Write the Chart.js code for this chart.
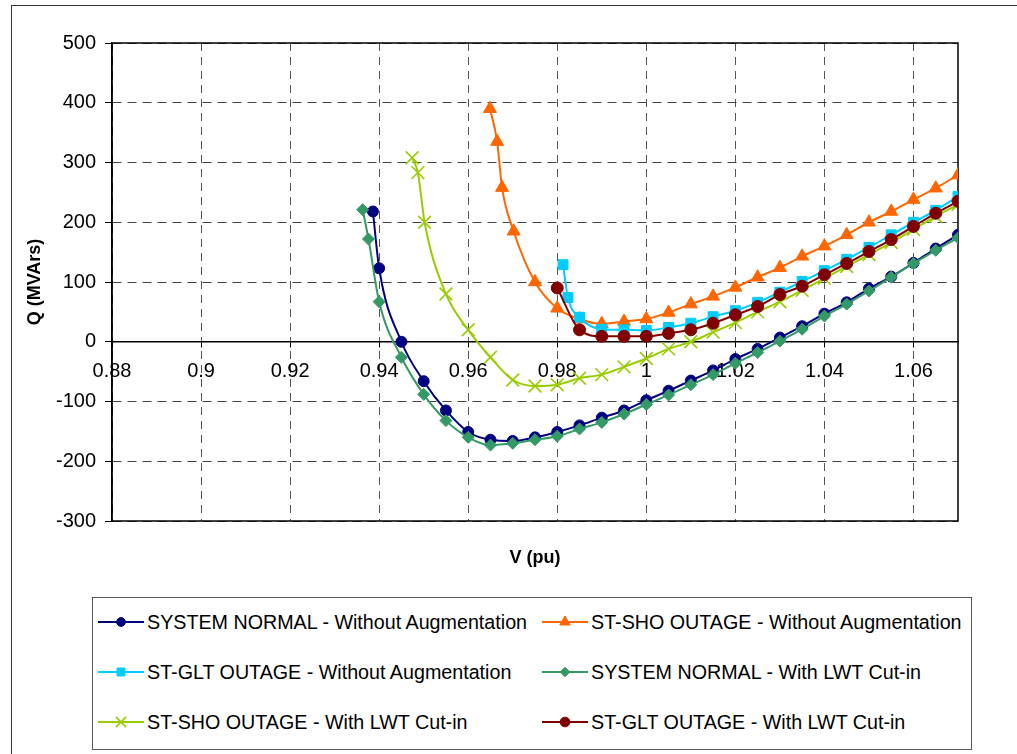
<!DOCTYPE html>
<html>
<head>
<meta charset="utf-8">
<script src="https://cdn.jsdelivr.net/npm/chart.js@4/dist/chart.umd.min.js"></script>
<style>
  body { margin: 0; background: #fff; overflow: hidden; }
  #page { position: relative; width: 1017px; height: 754px; overflow: hidden; }
  #chart { position: absolute; left: 0; top: 0; }
  #frame { position: absolute; left: 11px; top: 5px; width: 1030px; height: 780px; border: 1.5px solid #333; box-sizing: border-box; pointer-events: none; }
  #legend { position: absolute; left: 92px; top: 597px; width: 880px; height: 153px; border: 1px solid #555; box-sizing: border-box; background: #fff;
            font-family: 'Liberation Sans', Arial, sans-serif; font-size: 19.7px; color: #000; }
  .item { position: absolute; height: 24px; display: flex; align-items: center; white-space: nowrap; }
  .item canvas { margin-right: 3px; }
</style>
</head>
<body>
<div id="page">
  <canvas id="chart" width="1017" height="590"></canvas>
  <div id="legend"></div>
  <div id="frame"></div>
</div>
<script>
// V (pu) and Q (MVArs), one pair of arrays per series
const vNormal = [0.9386, 0.94, 0.945, 0.95, 0.955, 0.96, 0.965, 0.97, 0.975, 0.98, 0.985, 0.99, 0.995, 1.0,
                 1.005, 1.01, 1.015, 1.02, 1.025, 1.03, 1.035, 1.04, 1.045, 1.05, 1.055, 1.06, 1.065, 1.07];
const qNormal = [218, 123, 0, -66, -115, -151, -164, -166, -160, -151, -140, -127, -115, -98,
                 -82, -65, -48, -29, -12, 7, 26, 47, 66, 89, 109, 132, 156, 179];

const vShoOut = [0.9649, 0.9665, 0.9676, 0.9702, 0.975, 0.98, 0.985, 0.99, 0.995, 1.0, 1.005, 1.01, 1.015,
                 1.02, 1.025, 1.03, 1.035, 1.04, 1.045, 1.05, 1.055, 1.06, 1.065, 1.07];
const qShoOut = [390, 335, 258, 185, 100, 56, 38, 30, 34, 38, 49, 63, 76,
                 91, 108, 124, 143, 160, 179, 200, 218, 238, 257, 279];

const vGltOut = [0.9813, 0.9824, 0.985, 0.99, 0.995, 1.0, 1.005, 1.01, 1.015, 1.02, 1.025, 1.03,
                 1.035, 1.04, 1.045, 1.05, 1.055, 1.06, 1.065, 1.07];
const qGltOut = [129, 74, 41, 21, 20, 19, 24, 31, 42, 52, 66, 83,
                 101, 119, 138, 158, 179, 200, 220, 243];

const vNormalLwt = [0.9363, 0.9376, 0.94, 0.945, 0.95, 0.955, 0.96, 0.965, 0.97, 0.975, 0.98, 0.985, 0.99, 0.995, 1.0,
                    1.005, 1.01, 1.015, 1.02, 1.025, 1.03, 1.035, 1.04, 1.045, 1.05, 1.055, 1.06, 1.065, 1.07];
const qNormalLwt = [221, 172, 67, -26, -88, -132, -160, -173, -170, -164, -158, -146, -135, -121, -105,
                    -89, -72, -55, -36, -18, 1, 21, 43, 63, 85, 108, 131, 153, 174];

const vShoLwt = [0.9474, 0.9487, 0.9502, 0.955, 0.96, 0.965, 0.97, 0.975, 0.98, 0.985, 0.99, 0.995, 1.0,
                 1.005, 1.01, 1.015, 1.02, 1.025, 1.03, 1.035, 1.04, 1.045, 1.05, 1.055, 1.06, 1.065, 1.07];
const qShoLwt = [308, 283, 200, 80, 20, -26, -64, -74, -72, -61, -55, -42, -28,
                 -12, 0, 16, 32, 50, 67, 86, 106, 126, 146, 166, 188, 210, 230];

const vGltLwt = [0.98, 0.985, 0.99, 0.995, 1.0, 1.005, 1.01, 1.015, 1.02, 1.025, 1.03,
                 1.035, 1.04, 1.045, 1.05, 1.055, 1.06, 1.065, 1.07];
const qGltLwt = [90, 20, 9, 9, 9, 14, 20, 31, 45, 59, 79,
                 93, 112, 131, 151, 171, 193, 215, 235];

const seriesNames = [
  'SYSTEM NORMAL - Without Augmentation',
  'ST-SHO OUTAGE - Without Augmentation',
  'ST-GLT OUTAGE - Without Augmentation',
  'SYSTEM NORMAL - With LWT Cut-in',
  'ST-SHO OUTAGE - With LWT Cut-in',
  'ST-GLT OUTAGE - With LWT Cut-in'
];

const xTitle = 'V (pu)';
const yTitle = 'Q (MVArs)';

function pts(vs, qs) {
  return vs.map((v, i) => ({ x: v, y: qs[i] }));
}

const series = [
  { data: pts(vNormal, qNormal),       color: '#000080', style: 'circle',   r: 5.5 },
  { data: pts(vShoOut, qShoOut),       color: '#FF6600', style: 'triangle', r: 7.5 },
  { data: pts(vGltOut, qGltOut),       color: '#00CCFF', style: 'rect',     r: 7 },
  { data: pts(vNormalLwt, qNormalLwt), color: '#339966', style: 'rectRot',  r: 6 },
  { data: pts(vShoLwt, qShoLwt),       color: '#99CC00', style: 'crossRot', r: 9 },
  { data: pts(vGltLwt, qGltLwt),       color: '#800000', style: 'circle',   r: 6 }
];

const FONT = "'Liberation Sans', Arial, sans-serif";
Chart.defaults.font.family = FONT;
Chart.defaults.color = '#000';

// plot area border (Excel style box round the plot)
const framePlugin = {
  id: 'frame',
  beforeDatasetsDraw(chart) {
    const a = chart.chartArea, ctx = chart.ctx;
    ctx.save();
    ctx.strokeStyle = '#000';
    ctx.lineWidth = 1.5;
    ctx.strokeRect(a.left, a.top, a.right - a.left, a.bottom - a.top);
    ctx.restore();
  }
};

// axis titles, drawn by hand because the x axis sits on the zero line
const titlesPlugin = {
  id: 'titles',
  afterDraw(chart) {
    const a = chart.chartArea, ctx = chart.ctx;
    ctx.save();
    ctx.fillStyle = '#000';
    ctx.font = 'bold 18px ' + FONT;
    ctx.textAlign = 'center';
    ctx.textBaseline = 'middle';
    ctx.fillText(xTitle, (a.left + a.right) / 2, 558);
    ctx.translate(35, (a.top + a.bottom) / 2);
    ctx.rotate(-Math.PI / 2);
    ctx.fillText(yTitle, 0, 0);
    ctx.restore();
  }
};

const chart = new Chart(document.getElementById('chart'), {
  type: 'line',
  data: {
    datasets: series.map((s, i) => ({
      label: seriesNames[i],
      data: s.data,
      borderColor: s.color,
      backgroundColor: s.color,
      pointStyle: s.style,
      pointRadius: s.r,
      pointHoverRadius: s.r,
      pointBorderWidth: s.style === 'crossRot' ? 1.6 : 1,
      borderWidth: 2,
      cubicInterpolationMode: 'monotone',
      order: series.length - i
    }))
  },
  options: {
    responsive: false,
    animation: false,
    events: [],
    layout: { padding: { left: 50, top: 43, right: 59, bottom: 69 } },
    plugins: { legend: { display: false }, tooltip: { enabled: false } },
    scales: {
      x: {
        type: 'linear',
        min: 0.88,
        max: 1.07,
        position: { y: 0 },
        ticks: {
          stepSize: 0.02,
          includeBounds: false,
          padding: 13,
          font: { size: 20 },
          color: '#000',
          callback: v => String(Math.round(v * 100) / 100)
        },
        grid: { color: '#555', tickColor: '#000', tickLength: 5, borderDash: [8, 6] },
        border: { color: '#000', width: 1.5, dash: [8, 6] }
      },
      y: {
        type: 'linear',
        min: -300,
        max: 500,
        ticks: {
          stepSize: 100,
          padding: 9,
          font: { size: 20 },
          color: '#000',
          callback: v => String(v)
        },
        grid: { color: '#444', tickColor: '#000', tickLength: 7, borderDash: [9, 6] },
        border: { color: '#000', width: 1.5, dash: [9, 6] },
        afterFit: s => { s.width = 62; }
      }
    }
  },
  plugins: [framePlugin, titlesPlugin]
});

// legend: two columns, three rows, like the Excel one
const legend = document.getElementById('legend');
const colLeft = [5, 449];
const rowTop = [12, 62, 112];
chart.data.datasets.forEach((ds, i) => {
  const item = document.createElement('div');
  item.className = 'item';
  item.style.left = colLeft[i % 2] + 'px';
  item.style.top = rowTop[Math.floor(i / 2)] + 'px';

  const c = document.createElement('canvas');
  c.width = 46;
  c.height = 20;
  const ctx = c.getContext('2d');
  ctx.strokeStyle = ds.borderColor;
  ctx.fillStyle = ds.backgroundColor;
  ctx.lineWidth = 2;
  ctx.beginPath();
  ctx.moveTo(0, 10);
  ctx.lineTo(46, 10);
  ctx.stroke();
  ctx.lineWidth = ds.pointBorderWidth;
  Chart.helpers.drawPoint(ctx, {
    pointStyle: ds.pointStyle,
    radius: ds.pointRadius * 0.8,
    rotation: 0,
    borderWidth: ds.pointBorderWidth
  }, 23, 10);

  const label = document.createElement('span');
  label.textContent = ds.label;
  item.appendChild(c);
  item.appendChild(label);
  legend.appendChild(item);
});
</script>
</body>
</html>
